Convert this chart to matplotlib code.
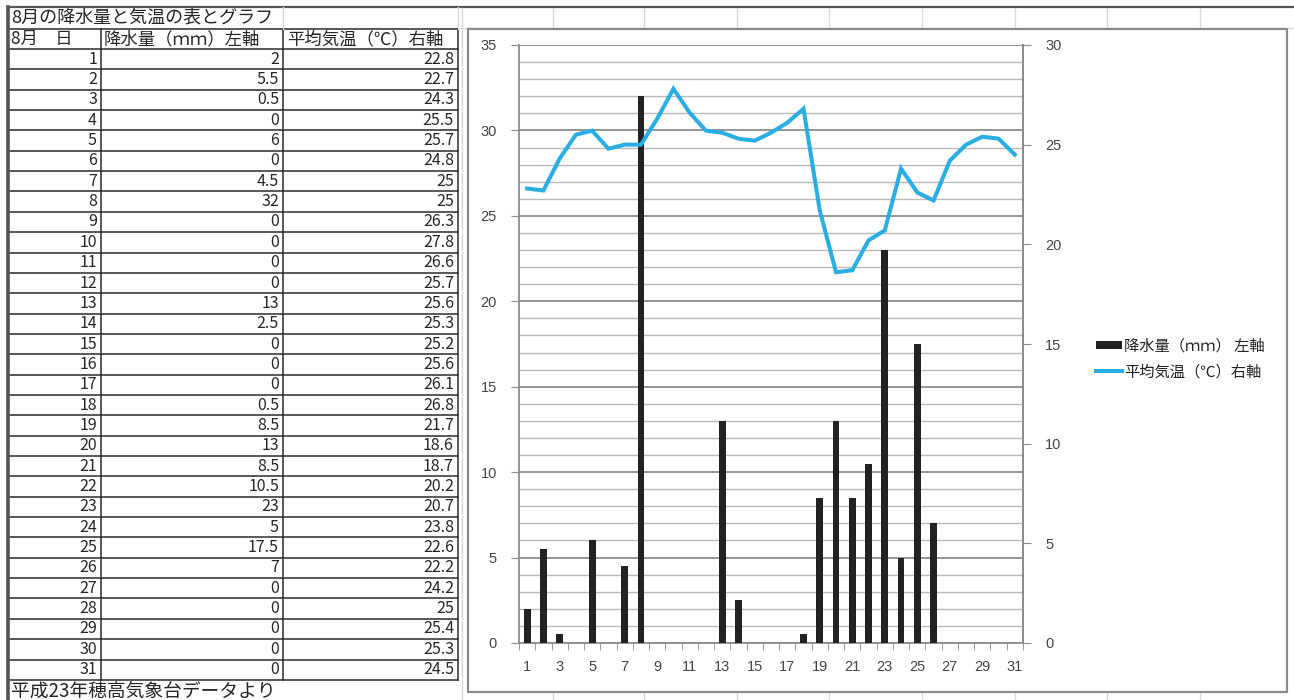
import matplotlib
matplotlib.use("Agg")
import matplotlib.pyplot as plt
from matplotlib.patches import Rectangle
from matplotlib.ticker import MultipleLocator, FixedLocator

plt.rcParams['font.family'] = ['Noto Sans CJK JP', 'DejaVu Sans']

# 8月の日別データ（平成23年 穂高）
days = list(range(1, 32))
rain = [2, 5.5, 0.5, 0, 6, 0, 4.5, 32, 0, 0, 0, 0, 13, 2.5, 0, 0,
        0, 0.5, 8.5, 13, 8.5, 10.5, 23, 5, 17.5, 7, 0, 0, 0, 0, 0]
temp = [22.8, 22.7, 24.3, 25.5, 25.7, 24.8, 25, 25, 26.3, 27.8, 26.6,
        25.7, 25.6, 25.3, 25.2, 25.6, 26.1, 26.8, 21.7, 18.6, 18.7, 20.2,
        20.7, 23.8, 22.6, 22.2, 24.2, 25, 25.4, 25.3, 24.5]

title = "8月の降水量と気温の表とグラフ"
headers = ["8月　日", "降水量（ｍｍ）左軸", "平均気温（℃）右軸"]
source = "平成23年穂高気象台データより"
legend_labels = ["降水量（ｍｍ） 左軸", "平均気温（℃）右軸"]

W, H = 1294, 700
fig = plt.figure(figsize=(W / 100, H / 100), dpi=100)
fig.patch.set_facecolor('white')

# 背景（シートの罫線と表）をピクセル座標で描く
bg = fig.add_axes([0, 0, 1, 1], zorder=0)
bg.set_xlim(0, W)
bg.set_ylim(H, 0)
bg.axis('off')

light = '#d9d9d9'
for x in [462, 553, 644, 737, 829, 922, 1015, 1107, 1200]:
    bg.plot([x, x], [7, H], color=light, lw=1)
bg.plot([458, W], [28, 28], color=light, lw=1)
bg.plot([8, W], [7, 7], color='#555555', lw=1.6)

# グラフの枠
bg.add_patch(Rectangle((468, 29), 1287 - 468, 692 - 29, facecolor='white',
                       edgecolor='#8a8a8a', lw=1.6, zorder=2))

# 表
x_left, x_c1, x_c2, x_right = 8, 101, 283, 458
y_head, y_body, pitch = 29, 49, 20.35
y_end = y_body + pitch * len(days)
dark = '#2b2b2b'
for y in [y_head, y_body] + [y_body + pitch * k for k in range(1, len(days) + 1)]:
    bg.plot([x_left, x_right], [y, y], color=dark, lw=1.1)
for x in [x_c1, x_c2, x_right]:
    bg.plot([x, x], [y_head, y_end], color=dark, lw=1.1)
bg.plot([x_c2, x_c2], [7, y_head], color=light, lw=1)
bg.plot([x_right, x_right], [7, y_head], color=light, lw=1)
bg.plot([x_left, x_left], [7, H], color='#555555', lw=2.6)

txt = dict(color='#262626', va='center')
bg.text(11, 18, title, fontsize=13, ha='left', **txt)
for x, h in zip([11, 104, 287], headers):
    bg.text(x, 39, h, fontsize=12.5, ha='left', **txt)
for i, d in enumerate(days):
    yc = y_body + pitch * (i + 0.5)
    bg.text(97, yc, str(d), fontsize=11.5, ha='right', **txt)
    bg.text(279, yc, f"{rain[i]:g}", fontsize=11.5, ha='right', **txt)
    bg.text(454, yc, f"{temp[i]:g}", fontsize=11.5, ha='right', **txt)
bg.text(11, 691, source, fontsize=13.5, ha='left', **txt)

# グラフ本体
ax = fig.add_axes([519 / W, 1 - 643 / H, 504 / W, 598 / H], zorder=3)
ax.set_facecolor('white')
bars = ax.bar(days, rain, width=0.42, color='#222222', zorder=3)
ax.set_xlim(0.5, 31.5)
ax.set_ylim(0, 35)
ax.yaxis.set_major_locator(MultipleLocator(5))
ax.yaxis.set_minor_locator(MultipleLocator(1))
ax.grid(which='minor', axis='y', color='#b8b8b8', lw=1.0, zorder=0)
ax.grid(which='major', axis='y', color='#8c8c8c', lw=1.3, zorder=0)
ax.set_xticks(days[::2])
ax.xaxis.set_minor_locator(FixedLocator([d + 0.5 for d in range(0, 32)]))
ax.tick_params(axis='x', which='major', length=0, pad=12)
ax.tick_params(axis='x', which='minor', length=5, color='#8c8c8c', direction='out')
ax.tick_params(axis='y', which='major', length=6, color='#8c8c8c', pad=10)
ax.tick_params(axis='y', which='minor', length=0)
ax.tick_params(labelsize=10.5, labelcolor='#444444', labelfontfamily='Liberation Sans')
for s in ['left', 'bottom', 'right']:
    ax.spines[s].set_color('#8c8c8c')
    ax.spines[s].set_linewidth(1.3)
ax.spines['top'].set_visible(False)

ax2 = ax.twinx()
line, = ax2.plot(days, temp, color='#29ade2', lw=2.9, solid_joinstyle='miter', zorder=4)
ax2.set_ylim(0, 30)
ax2.set_yticks(range(0, 31, 5))
ax2.tick_params(axis='y', length=6, color='#8c8c8c', pad=10, labelsize=10.5,
                labelcolor='#444444', labelfontfamily='Liberation Sans')
ax2.spines['right'].set_color('#8c8c8c')
ax2.spines['right'].set_linewidth(1.3)
ax2.spines['top'].set_visible(False)
ax2.spines['left'].set_visible(False)
ax2.spines['bottom'].set_visible(False)

fig.legend([bars, line], legend_labels, loc='center left',
           bbox_to_anchor=(1082 / W, 1 - 359 / H), frameon=False, fontsize=11,
           handlelength=1.7, handleheight=0.45, handletextpad=0.15,
           labelspacing=0.55, labelcolor='#222222')

fig.savefig('out.png', dpi=100, facecolor='white')
